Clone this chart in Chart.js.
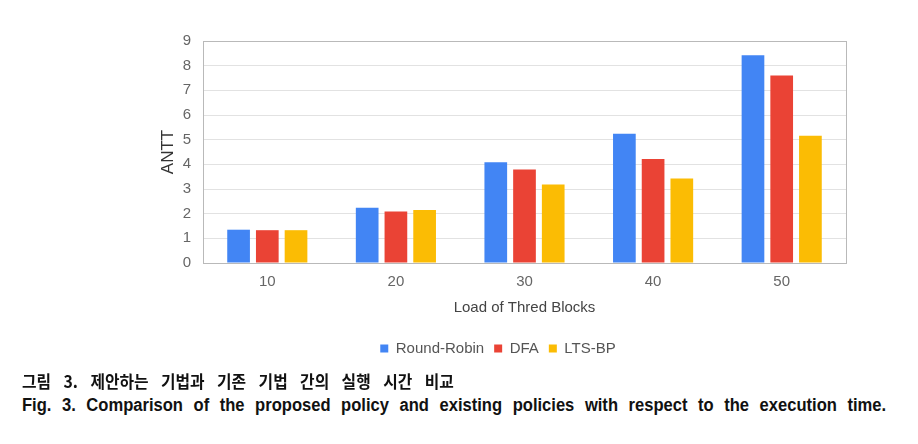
<!DOCTYPE html>
<html>
<head>
<meta charset="utf-8">
<script src="https://cdn.jsdelivr.net/npm/chart.js@4.4.1/dist/chart.umd.min.js"></script>
<style>
  body { margin: 0; background: #fff; width: 918px; height: 444px; overflow: hidden; position: relative; }
  #wrap { position: absolute; left: 0; top: 0; width: 918px; height: 370px; }
  .cap { position: absolute; left: 22px; white-space: nowrap; font-weight: bold; color: #111; transform-origin: 0 50%; }
  #capKo { top: 369px; font-family: "Noto Sans CJK KR", sans-serif; font-size: 17px; line-height: 24px; }
  #capEn { top: 393px; font-family: "Liberation Sans", sans-serif; font-size: 18px; line-height: 24px; }
</style>
</head>
<body>
<div id="wrap"><canvas id="chart"></canvas></div>
<div class="cap" id="capKo">그림 3. 제안하는 기법과 기존 기법 간의 실행 시간 비교</div>
<div class="cap" id="capEn">Fig. 3. Comparison of the proposed policy and existing policies with respect to the execution time.</div>
<script>
const loads = ['10', '20', '30', '40', '50'];
const roundRobin = [1.35, 2.24, 4.08, 5.24, 8.42];
const dfa = [1.33, 2.09, 3.79, 4.22, 7.6];
const ltsBp = [1.33, 2.15, 3.18, 3.43, 5.16];

// caption uses a narrow face and is justified: squeeze glyphs, spread words
function fitWidth(id, target, squeeze) {
  const el = document.getElementById(id);
  const gaps = el.textContent.split(' ').length - 1;
  el.style.transform = `scaleX(${squeeze})`;
  el.style.wordSpacing = ((target / squeeze - el.offsetWidth) / gaps) + 'px';
}
fitWidth('capKo', 432, 0.93);
fitWidth('capEn', 864, 0.92);

const frame = {
  id: 'frame',
  afterDraw(chart) {
    const { ctx, chartArea: a } = chart;
    ctx.save();
    ctx.strokeStyle = '#b9b9b9';
    ctx.lineWidth = 1;
    ctx.strokeRect(Math.round(a.left) + 0.5, Math.round(a.top) + 0.5, Math.round(a.right - a.left), Math.round(a.bottom - a.top));
    ctx.restore();
  }
};

const tickFont = { family: 'Liberation Sans', size: 15 };

new Chart(document.getElementById('chart'), {
  type: 'bar',
  data: {
    labels: loads,
    datasets: [
      { label: 'Round-Robin', data: roundRobin, backgroundColor: '#4285F4' },
      { label: 'DFA', data: dfa, backgroundColor: '#EA4335' },
      { label: 'LTS-BP', data: ltsBp, backgroundColor: '#FBBC04' }
    ]
  },
  options: {
    responsive: true,
    maintainAspectRatio: false,
    animation: false,
    categoryPercentage: 0.67,
    barPercentage: 0.79,
    layout: { padding: { left: 150, right: 72, top: 41, bottom: 4 } },
    plugins: {
      tooltip: { enabled: false },
      legend: {
        position: 'bottom',
        labels: {
          boxWidth: 8, boxHeight: 8, color: '#555',
          font: { family: 'Liberation Sans', size: 15 },
          padding: 10
        }
      }
    },
    scales: {
      x: {
        grid: { display: false },
        border: { color: '#b9b9b9' },
        ticks: { color: '#666', font: tickFont, padding: 2 },
        title: { display: true, text: 'Load of Thred Blocks', color: '#444', font: { family: 'Liberation Sans', size: 15 }, padding: { top: 4, bottom: 14 } },
        afterFit(s) { s.height = 68; }
      },
      y: {
        min: 0, max: 9,
        ticks: { stepSize: 1, color: '#666', font: tickFont, padding: 12 },
        grid: { color: '#e2e2e2', drawTicks: false },
        border: { color: '#b9b9b9' },
        title: { display: true, text: 'ANTT', color: '#333', font: { family: 'Liberation Sans', size: 17 }, padding: { top: 8, bottom: 0 } },
        afterFit(s) { s.width = 53; }
      }
    }
  },
  plugins: [frame]
});
</script>
</body>
</html>
